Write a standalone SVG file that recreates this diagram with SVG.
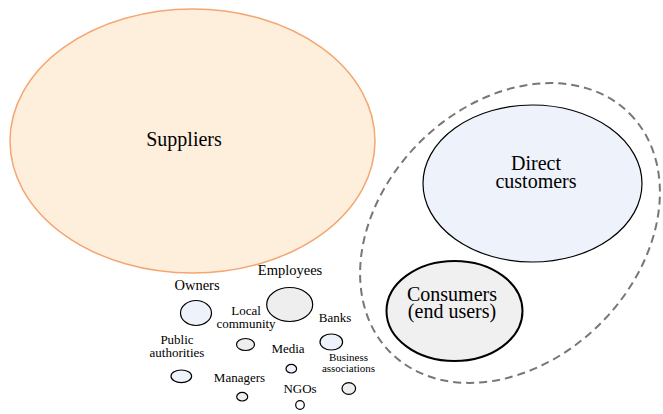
<svg xmlns="http://www.w3.org/2000/svg" width="663" height="414" viewBox="0 0 663 414">
<style>
text{fill:#000;text-anchor:middle}
.big{font-size:20px}
.mid{font-size:13px}
.lbl{font-size:14.5px}
.sm{font-size:11px}
.blue{fill:#EEF3FB;stroke:#000;stroke-width:1.2}
.grey{fill:#EEEEEE;stroke:#000;stroke-width:1.2}
</style>
<rect width="663" height="414" fill="#fff"/>
<g font-family="Liberation Serif, DejaVu Serif, serif">
<g id="suppliers">
<ellipse cx="192.5" cy="141" rx="182.5" ry="132" fill="#FEEFDD" stroke="#F4A672" stroke-width="1.5"/>
<text class="big" x="184" y="146">Suppliers</text>
</g>
<g id="customer-group">
<ellipse cx="510" cy="233" rx="169" ry="128" transform="rotate(-45 510 233)" fill="none" stroke="#777" stroke-width="2" stroke-dasharray="8,5"/>
</g>
<g id="direct-customers">
<ellipse class="blue" cx="532.5" cy="183.5" rx="109.5" ry="78.5" stroke-width="1.5"/>
<text class="big" x="536" y="170">Direct</text>
<text class="big" x="536" y="188">customers</text>
</g>
<g id="consumers">
<ellipse cx="454.5" cy="311" rx="68" ry="50" fill="#F0F0F0" stroke="#000" stroke-width="2"/>
<text class="big" x="452" y="300.5">Consumers</text>
<text class="big" x="452" y="318">(end users)</text>
</g>
<g id="owners">
<text class="lbl" x="197" y="290">Owners</text>
<ellipse class="blue" cx="196" cy="313" rx="15.5" ry="12.5"/>
</g>
<g id="employees">
<text class="lbl" x="290" y="274.5">Employees</text>
<ellipse class="grey" cx="289.7" cy="304.5" rx="23" ry="17"/>
</g>
<g id="local-community">
<text class="mid" x="246" y="315">Local</text>
<text class="mid" x="246" y="327.7">community</text>
<ellipse class="grey" cx="245.5" cy="344.5" rx="9" ry="6"/>
</g>
<g id="banks">
<text class="mid" x="335" y="321.7">Banks</text>
<ellipse class="blue" cx="331.3" cy="342" rx="11.3" ry="8"/>
</g>
<g id="public-authorities">
<text class="mid" x="177" y="344.3">Public</text>
<text class="mid" x="177" y="356.7">authorities</text>
<ellipse class="blue" cx="181.3" cy="376.3" rx="10.3" ry="6.3"/>
</g>
<g id="media">
<text class="mid" x="288" y="353.3">Media</text>
<ellipse class="blue" cx="291.3" cy="368.7" rx="5.3" ry="4.3"/>
</g>
<g id="business-associations">
<text class="sm" x="348.5" y="361">Business</text>
<text class="sm" x="348.5" y="371.7">associations</text>
<ellipse class="grey" cx="348.8" cy="388.5" rx="6.8" ry="5.8"/>
</g>
<g id="managers">
<text class="mid" x="239.5" y="382.3">Managers</text>
<ellipse class="grey" cx="242.2" cy="396.7" rx="5.5" ry="4.3"/>
</g>
<g id="ngos">
<text class="mid" x="300" y="393.3">NGOs</text>
<ellipse cx="300" cy="405" rx="4.3" ry="4.3" fill="#fff" stroke="#000" stroke-width="1.2"/>
</g>
</g>
</svg>
